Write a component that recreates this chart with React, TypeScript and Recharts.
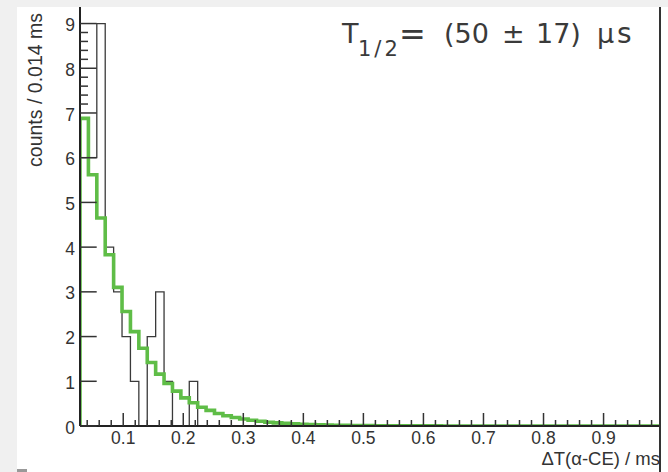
import React from 'react';
import { ComposedChart, Line, XAxis, YAxis } from 'recharts';

// ---- data ----
const X_MIN = 0.028;
const X_MAX = 0.994;
const BIN_WIDTH = 0.014;
const Y_MAX = 9.37;

// measured counts per 0.014 ms bin (black histogram), starting at X_MIN
const dataCounts = [6, 6, 9, 4, 3, 2, 1, 0, 2, 3, 1, 0, 0, 1];

// fitted curve value per bin (green)
const fitValues = [
  6.88, 5.62, 4.65, 3.83, 3.1, 2.56, 2.11, 1.74, 1.42, 1.16,
  0.95, 0.78, 0.63, 0.52, 0.42, 0.35, 0.28, 0.23, 0.19, 0.155,
  0.13, 0.105, 0.085, 0.07, 0.058, 0.047, 0.039, 0.032, 0.026, 0.021,
  0.017, 0.014, 0.012, 0.01, 0.008, 0.007, 0.005, 0.004, 0.004, 0.003,
  0.002, 0.002, 0.002, 0.001, 0.001, 0.001, 0, 0, 0, 0,
  0, 0, 0, 0, 0, 0, 0, 0, 0, 0,
  0, 0, 0, 0, 0, 0, 0, 0, 0,
];

const xMajorTicks = [0.1, 0.2, 0.3, 0.4, 0.5, 0.6, 0.7, 0.8, 0.9];
const xMinorTicks = [
  0.04, 0.06, 0.08, 0.12, 0.14, 0.16, 0.18, 0.22, 0.24, 0.26, 0.28,
  0.32, 0.34, 0.36, 0.38, 0.42, 0.44, 0.46, 0.48, 0.52, 0.54, 0.56, 0.58,
  0.62, 0.64, 0.66, 0.68, 0.72, 0.74, 0.76, 0.78, 0.82, 0.84, 0.86, 0.88,
  0.92, 0.94, 0.96, 0.98,
];
const yMajorTicks = [0, 1, 2, 3, 4, 5, 6, 7, 8, 9];
const yMinorTicks = [7.2, 7.4, 7.6, 7.8, 8.2, 8.4, 8.6, 8.8];

const xTitle = 'ΔT(α-CE) / ms';
const yTitle = 'counts / 0.014 ms';
const resultSymbol = 'T';
const resultSub = '1/2';
const resultEq = '=';
const resultValueParts = ['(50', '±', '17)', 'µ', 's'];

// ---- derived tables ----
const edge = (i: number) => +(X_MIN + i * BIN_WIDTH).toFixed(4);

const histData = dataCounts
  .map((c, i) => ({ x: edge(i), y: c }))
  .concat([{ x: edge(dataCounts.length), y: 0 }]);

const fitData = [{ x: edge(0), y: 0 }]
  .concat(fitValues.map((v, i) => ({ x: edge(i), y: v })))
  .concat([{ x: edge(fitValues.length), y: fitValues[fitValues.length - 1] }]);

const xTicks = [...xMajorTicks, ...xMinorTicks].sort((a, b) => a - b);
const yTicks = [...yMajorTicks, ...yMinorTicks].sort((a, b) => a - b);

const isIn = (arr: number[], v: number) => arr.some((t) => Math.abs(t - v) < 1e-6);

const LABEL_FONT = '"Liberation Sans", Arial, Helvetica, sans-serif';
const INK = '#333';

const XTick = (props: any) => {
  const { x, y, payload } = props;
  const v = payload.value;
  const major = isIn(xMajorTicks, v);
  return (
    <g>
      <line x1={x} x2={x} y1={y} y2={y - (major ? 13 : 6)} stroke={INK} strokeWidth={1.5} />
      {major && (
        <text x={x} y={y + 18.3} textAnchor="middle" fontFamily={LABEL_FONT} fontSize={17.5} fill={INK}>
          {String(v)}
        </text>
      )}
    </g>
  );
};

const YTick = (props: any) => {
  const { x, y, payload } = props;
  const v = payload.value;
  const major = isIn(yMajorTicks, v);
  return (
    <g>
      <line x1={x} x2={x + (major ? 16.7 : 8)} y1={y} y2={y} stroke={INK} strokeWidth={1.5} />
      {major && (
        <text x={x - 5} y={y + 7.6} textAnchor="end" fontFamily={LABEL_FONT} fontSize={17.5} fill={INK}>
          {String(v)}
        </text>
      )}
    </g>
  );
};

export default function App() {
  const resFont = '"DejaVu Sans", Verdana, sans-serif';
  const resColor = '#3a3a3a';
  return (
    <div style={{ position: 'absolute', left: 0, top: 0, width: 668, height: 472, background: '#fff', overflow: 'hidden' }}>
      <ComposedChart
        width={668}
        height={472}
        margin={{ top: 7, right: 8, left: 0, bottom: 0 }}
      >
        <XAxis
          dataKey="x"
          type="number"
          domain={[X_MIN, X_MAX]}
          allowDataOverflow
          ticks={xTicks}
          interval={0}
          tickSize={0}
          tickMargin={0}
          tickLine={false}
          tick={<XTick />}
          height={46}
          axisLine={{ stroke: '#222', strokeWidth: 2 }}
        />
        <YAxis
          dataKey="y"
          type="number"
          domain={[0, Y_MAX]}
          allowDataOverflow
          ticks={yTicks}
          interval={0}
          tickSize={0}
          tickMargin={0}
          tickLine={false}
          tick={<YTick />}
          width={80}
          axisLine={{ stroke: '#222', strokeWidth: 2 }}
        />
        <Line
          data={histData}
          dataKey="y"
          type="stepAfter"
          stroke="#3a3a3a"
          strokeWidth={1.3}
          dot={false}
          activeDot={false}
          isAnimationActive={false}
        />
        <Line
          data={fitData}
          dataKey="y"
          type="stepAfter"
          stroke="#5fbd47"
          strokeWidth={3.6}
          dot={false}
          activeDot={false}
          isAnimationActive={false}
        />
      </ComposedChart>

      {/* text overlay */}
      <svg width={668} height={472} style={{ position: 'absolute', left: 0, top: 0, pointerEvents: 'none' }}>
        <text
          transform="translate(42,13) rotate(-90)"
          textAnchor="end"
          fontFamily={LABEL_FONT}
          fontSize={19.5}
          fill={INK}
        >
          {yTitle}
        </text>
        <text x={660} y={465} textAnchor="end" fontFamily={LABEL_FONT} fontSize={18.5} fill={INK}>
          {xTitle}
        </text>
        <text x={342} y={43.3} fontFamily={resFont} fontSize={27} fill={resColor}>{resultSymbol}</text>
        <text x={358} y={56} fontFamily={resFont} fontSize={21} letterSpacing={3} fill={resColor}>{resultSub}</text>
        <text x={399} y={44.5} fontFamily={resFont} fontSize={32} fill={resColor}>{resultEq}</text>
        <text x={444} y={43.3} fontFamily={resFont} fontSize={27} fill={resColor}>{resultValueParts[0]}</text>
        <text x={502} y={43.3} fontFamily={resFont} fontSize={27} fill={resColor}>{resultValueParts[1]}</text>
        <text x={536} y={43.3} fontFamily={resFont} fontSize={27} fill={resColor}>{resultValueParts[2]}</text>
        <text x={597} y={43.3} fontFamily={resFont} fontSize={27} fill={resColor}>{resultValueParts[3]}</text>
        <text x={617} y={43.3} fontFamily={resFont} fontSize={28} fill={resColor}>{resultValueParts[4]}</text>
      </svg>

      {/* canvas frame */}
      <div style={{ position: 'absolute', left: 0, top: 0, width: 668, height: 7, background: '#f0f0f0' }} />
      <div style={{ position: 'absolute', left: 0, top: 0, width: 17, height: 472, background: '#f0f0f0' }} />
      <div style={{ position: 'absolute', left: 659, top: 7, width: 2, height: 465, background: '#333' }} />
      <div style={{ position: 'absolute', left: 17, top: 469, width: 10, height: 3, background: '#999' }} />
    </div>
  );
}
